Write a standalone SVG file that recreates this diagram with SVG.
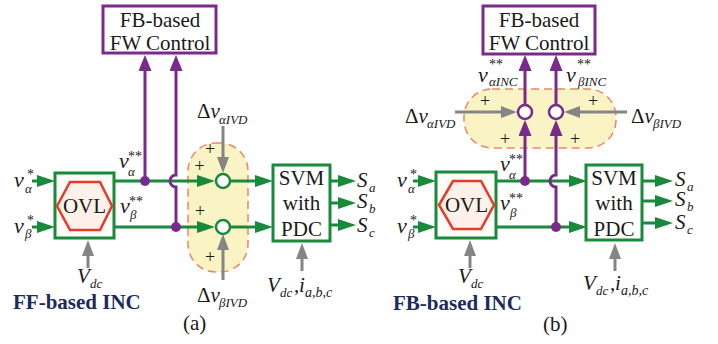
<svg xmlns="http://www.w3.org/2000/svg" width="718" height="344" viewBox="0 0 718 344">
<style>
text{font-family:"Liberation Serif","Times New Roman",serif;fill:#1a1a1a}
.it{font-style:italic}
.t21{font-size:21px}
.v{font-size:22px;font-style:italic}
.sub{font-size:13px;font-style:italic}
.sup{font-size:14px}
.pl{font-size:18px;text-anchor:middle}
.mid{text-anchor:middle}
.inc{font-size:21px;font-weight:bold;fill:#1b2b5b}
.g{stroke:#198a3b;stroke-width:3;fill:none}
.p{stroke:#7a2a8a;stroke-width:3;fill:none}
.gr{stroke:#858585;stroke-width:3;fill:none}
.gbox{fill:#ffffff;stroke:#198a3b;stroke-width:3}
.pbox{fill:#ffffff;stroke:#7a2a8a;stroke-width:3}
.hex{fill:#fdf1ea;stroke:#e8392a;stroke-width:2.5}
.zone{fill:#faf3c4;stroke:#f28466;stroke-width:1.5;stroke-dasharray:8 5}
.gsum{fill:#ffffff;stroke:#198a3b;stroke-width:2.5}
.psum{fill:#ffffff;stroke:#7a2a8a;stroke-width:2.5}
.dot{fill:#7a2a8a}
</style>
<defs>
<marker id="ag" markerUnits="userSpaceOnUse" markerWidth="18" markerHeight="12" refX="0" refY="6" orient="auto"><path d="M0,0 L18,6 L0,12 z" fill="#198a3b"/></marker>
<marker id="ap" markerUnits="userSpaceOnUse" markerWidth="16" markerHeight="13" refX="0" refY="6.5" orient="auto"><path d="M0,0 L16,6.5 L0,13 z" fill="#7a2a8a"/></marker>
<marker id="agr" markerUnits="userSpaceOnUse" markerWidth="16" markerHeight="12" refX="0" refY="6" orient="auto"><path d="M0,0 L16,6 L0,12 z" fill="#858585"/></marker>
</defs>

<!-- zones -->
<rect class="zone" x="188" y="143" width="60" height="129" rx="28"/>
<rect class="zone" x="464" y="89" width="152" height="59" rx="28"/>

<g id="connectors">
<!-- panel a green -->
<line class="g" x1="32" y1="181" x2="37" y2="181" marker-end="url(#ag)"/>
<line class="g" x1="32" y1="227" x2="37" y2="227" marker-end="url(#ag)"/>
<line class="g" x1="114" y1="181" x2="197" y2="181" marker-end="url(#ag)"/>
<line class="g" x1="114" y1="227" x2="197" y2="227" marker-end="url(#ag)"/>
<line class="g" x1="230" y1="181" x2="255" y2="181" marker-end="url(#ag)"/>
<line class="g" x1="230" y1="227" x2="255" y2="227" marker-end="url(#ag)"/>
<line class="g" x1="330" y1="181" x2="338" y2="181" marker-end="url(#ag)"/>
<line class="g" x1="330" y1="203" x2="338" y2="203" marker-end="url(#ag)"/>
<line class="g" x1="330" y1="225" x2="338" y2="225" marker-end="url(#ag)"/>
<!-- panel a purple -->
<line class="p" x1="145" y1="181" x2="145" y2="71" marker-end="url(#ap)"/>
<path class="p" d="M176,227 V187 A6,6 0 0 1 176,175 V71" marker-end="url(#ap)"/>
<!-- panel a gray -->
<line class="gr" x1="88" y1="268" x2="88" y2="256" marker-end="url(#agr)"/>
<line class="gr" x1="223" y1="126" x2="223" y2="157" marker-end="url(#agr)"/>
<line class="gr" x1="223" y1="280" x2="223" y2="250" marker-end="url(#agr)"/>
<line class="gr" x1="302" y1="271" x2="302" y2="259" marker-end="url(#agr)"/>

<!-- panel b green -->
<line class="g" x1="413" y1="181" x2="418" y2="181" marker-end="url(#ag)"/>
<line class="g" x1="413" y1="227" x2="418" y2="227" marker-end="url(#ag)"/>
<line class="g" x1="496" y1="181" x2="569" y2="181" marker-end="url(#ag)"/>
<line class="g" x1="496" y1="227" x2="569" y2="227" marker-end="url(#ag)"/>
<line class="g" x1="642" y1="181" x2="655" y2="181" marker-end="url(#ag)"/>
<line class="g" x1="642" y1="201" x2="655" y2="201" marker-end="url(#ag)"/>
<line class="g" x1="642" y1="223" x2="655" y2="223" marker-end="url(#ag)"/>
<!-- panel b purple -->
<line class="p" x1="525" y1="181" x2="525" y2="136" marker-end="url(#ap)"/>
<line class="p" x1="525" y1="105" x2="525" y2="71" marker-end="url(#ap)"/>
<path class="p" d="M556,227 V187 A6,6 0 0 1 556,175 V136" marker-end="url(#ap)"/>
<line class="p" x1="556" y1="105" x2="556" y2="71" marker-end="url(#ap)"/>
<!-- panel b gray -->
<line class="gr" x1="455" y1="112" x2="501" y2="112" marker-end="url(#agr)"/>
<line class="gr" x1="627" y1="112" x2="580" y2="112" marker-end="url(#agr)"/>
<line class="gr" x1="470" y1="268" x2="470" y2="256" marker-end="url(#agr)"/>
<line class="gr" x1="615" y1="271" x2="615" y2="259" marker-end="url(#agr)"/>
<!-- junction dots -->
<circle class="dot" cx="145" cy="181" r="5"/>
<circle class="dot" cx="176" cy="227" r="5"/>
<circle class="dot" cx="525" cy="181" r="5"/>
<circle class="dot" cx="556" cy="227" r="5"/>
</g>

<!-- ===== panel (a) nodes ===== -->
<g id="fw-a">
<rect class="pbox" x="103" y="6" width="113" height="47"/>
<text class="t21 mid" x="160" y="27">FB-based</text>
<text class="t21 mid" x="160" y="50">FW Control</text>
</g>
<g id="ovl-a">
<rect class="gbox" x="55" y="173" width="59" height="65" style="fill:#fefcf6"/>
<polygon class="hex" points="57,206 70,182 100,182 112,206 100,230 70,230"/>
<text class="t21 mid" x="84.5" y="213">OVL</text>
</g>
<g id="sum-a-alpha"><circle class="gsum" cx="223" cy="181" r="7"/></g>
<g id="sum-a-beta"><circle class="gsum" cx="223" cy="227" r="7"/></g>
<g id="svm-a">
<rect class="gbox" x="273" y="165" width="57" height="76"/>
<text class="t21 mid" x="301.5" y="185">SVM</text>
<text class="t21 mid" x="301.5" y="210">with</text>
<text class="t21 mid" x="301.5" y="236">PDC</text>
</g>

<!-- ===== panel (b) nodes ===== -->
<g id="fw-b">
<rect class="pbox" x="483" y="6" width="112" height="48"/>
<text class="t21 mid" x="539" y="27">FB-based</text>
<text class="t21 mid" x="539" y="50">FW Control</text>
</g>
<g id="ovl-b">
<rect class="gbox" x="436" y="172" width="60" height="66" style="fill:#fefcf6"/>
<polygon class="hex" points="439,205 453,181 481,181 494,205 481,229 453,229"/>
<text class="t21 mid" x="466.5" y="212">OVL</text>
</g>
<g id="sum-b-alpha"><circle class="psum" cx="525" cy="112" r="7"/></g>
<g id="sum-b-beta"><circle class="psum" cx="556" cy="112" r="7"/></g>
<g id="svm-b">
<rect class="gbox" x="586" y="165" width="56" height="75"/>
<text class="t21 mid" x="614" y="185">SVM</text>
<text class="t21 mid" x="614" y="210">with</text>
<text class="t21 mid" x="614" y="236">PDC</text>
</g>

<!-- ===== labels (a) ===== -->
<g id="labels-a">
<text class="v" x="14" y="187">v</text><text class="sup" x="27" y="179">*</text><text class="sub" x="25" y="193">α</text>
<text class="v" x="14" y="233">v</text><text class="sup" x="27" y="225">*</text><text class="sub" x="25" y="238">β</text>
<text class="v" x="119" y="168">v</text><text class="sup" x="128" y="161">**</text><text class="sub" x="128" y="176">α</text>
<text class="v" x="120" y="213">v</text><text class="sup" x="129" y="206">**</text><text class="sub" x="130" y="219">β</text>
<text class="t21" x="197" y="118">Δ<tspan class="it">v</tspan></text><text class="sub" x="219" y="124">αIVD</text>
<text class="t21" x="197" y="302">Δ<tspan class="it">v</tspan></text><text class="sub" x="219" y="307">βIVD</text>
<text class="pl" x="210" y="155">+</text>
<text class="pl" x="199.5" y="172">+</text>
<text class="pl" x="200" y="217">+</text>
<text class="pl" x="210" y="263">+</text>
<text class="t21 it" x="357" y="187">S</text><text class="sub" x="369" y="192">a</text>
<text class="t21 it" x="357" y="208">S</text><text class="sub" x="369" y="213">b</text>
<text class="t21 it" x="357" y="232">S</text><text class="sub" x="369" y="237">c</text>
<text class="t21 it" x="77" y="283">V</text><text class="sub" x="90" y="288">dc</text>
<text class="t21 it" x="267" y="292">V</text><text class="sub" x="280" y="297">dc</text><text class="t21" x="294" y="292">,</text><text class="t21 it" x="299" y="292">i</text><text class="sub" x="305" y="297" style="font-size:14px">a,b,c</text>
<text class="inc" x="13" y="309">FF-based INC</text>
<text class="t21" x="183" y="330">(a)</text>
</g>

<!-- ===== labels (b) ===== -->
<g id="labels-b">
<text class="v" x="397" y="187">v</text><text class="sup" x="410" y="179">*</text><text class="sub" x="408" y="193">α</text>
<text class="v" x="397" y="233">v</text><text class="sup" x="410" y="225">*</text><text class="sub" x="408" y="238">β</text>
<text class="v" x="500" y="171">v</text><text class="sup" x="509" y="164">**</text><text class="sub" x="509" y="179">α</text>
<text class="v" x="500" y="210">v</text><text class="sup" x="509" y="203">**</text><text class="sub" x="510" y="217">β</text>
<text class="v" x="478" y="82">v</text><text class="sup" x="489" y="69">**</text><text class="sub" x="489" y="86">αINC</text>
<text class="v" x="566" y="82">v</text><text class="sup" x="577" y="69">**</text><text class="sub" x="578" y="86">βINC</text>
<text class="t21" x="405" y="123">Δ<tspan class="it">v</tspan></text><text class="sub" x="427" y="128">αIVD</text>
<text class="t21" x="631" y="123">Δ<tspan class="it">v</tspan></text><text class="sub" x="653" y="128">βIVD</text>
<text class="pl" x="485" y="107">+</text>
<text class="pl" x="505" y="145">+</text>
<text class="pl" x="593" y="107">+</text>
<text class="pl" x="575" y="145">+</text>
<text class="t21 it" x="675" y="186">S</text><text class="sub" x="687" y="191">a</text>
<text class="t21 it" x="675" y="206">S</text><text class="sub" x="687" y="211">b</text>
<text class="t21 it" x="675" y="229">S</text><text class="sub" x="687" y="234">c</text>
<text class="t21 it" x="458" y="283">V</text><text class="sub" x="471" y="288">dc</text>
<text class="t21 it" x="583" y="290">V</text><text class="sub" x="596" y="295">dc</text><text class="t21" x="610" y="290">,</text><text class="t21 it" x="615" y="290">i</text><text class="sub" x="621" y="295" style="font-size:14px">a,b,c</text>
<text class="inc" x="393" y="310">FB-based INC</text>
<text class="t21" x="543" y="331">(b)</text>
</g>
</svg>
